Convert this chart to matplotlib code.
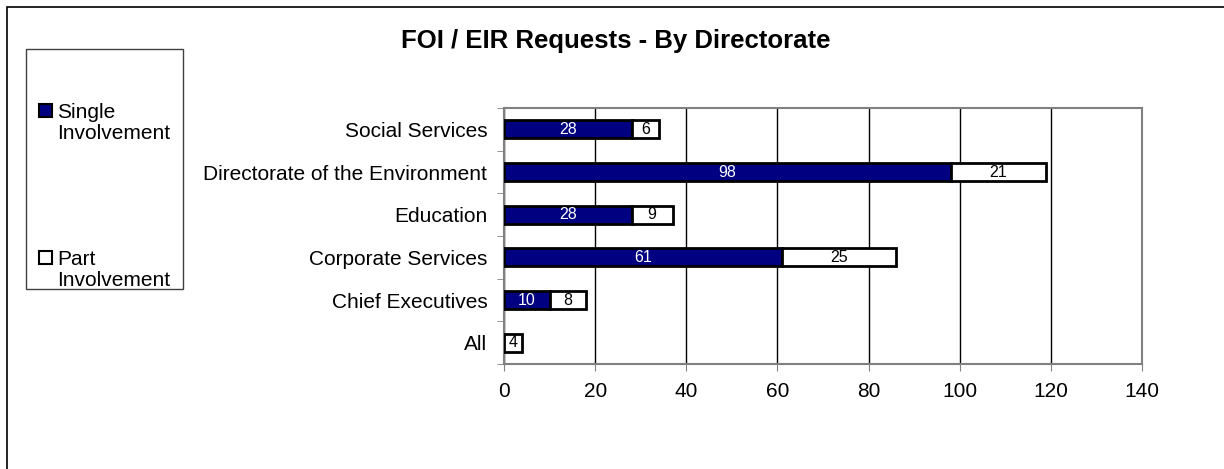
import matplotlib.pyplot as plt
import matplotlib.patches as mpatches
import numpy as np

plt.rcParams['font.family'] = ['Liberation Sans', 'DejaVu Sans']

# data, bottom to top
directorates = ['All', 'Chief Executives', 'Corporate Services', 'Education',
                'Directorate of the Environment', 'Social Services']
single = [0, 10, 61, 28, 98, 28]
part = [4, 8, 25, 9, 21, 6]

W, H = 1224, 469
fig = plt.figure(figsize=(W / 100, H / 100), dpi=100)

# plot area in pixels: left 504, right 1142, top 108, bottom 364
ax = fig.add_axes([504 / W, 1 - 364 / H, (1142 - 504) / W, (364 - 108) / H])

y = np.arange(len(directorates))
bh = 0.42
ax.barh(y, single, height=bh, color='#000080', edgecolor='black', linewidth=2, zorder=3)
ax.barh(y, part, left=single, height=bh, color='white', edgecolor='black', linewidth=2, zorder=3)

for i in range(len(directorates)):
    if single[i] > 0:
        ax.text(single[i] / 2, y[i], str(single[i]), color='white', ha='center',
                va='center', fontsize=11.5, zorder=4)
    if part[i] > 0:
        ax.text(single[i] + part[i] / 2, y[i], str(part[i]), color='black', ha='center',
                va='center', fontsize=11.5, zorder=4)

ax.set_xlim(0, 140)
ax.set_ylim(-0.5, len(directorates) - 0.5)
ax.set_xticks(range(0, 141, 20))
ax.tick_params(axis='x', labelsize=15, length=5, color='#808080', pad=8)
ax.set_yticks(y)
ax.set_yticklabels(directorates, fontsize=15)
ax.tick_params(axis='y', length=0, pad=12)
ax.set_yticks(np.arange(-0.5, len(directorates), 1), minor=True)
ax.tick_params(axis='y', which='minor', length=5, color='#808080')
ax.xaxis.grid(True, color='black', linewidth=1)
ax.set_axisbelow(True)
for s in ax.spines.values():
    s.set_color('#808080')
    s.set_linewidth(1.5)

fig.text(616 / W, 1 - 41 / H, 'FOI / EIR Requests - By Directorate', ha='center',
         va='center', fontsize=18.5, fontweight='bold')

# legend box
fig.patches.append(mpatches.Rectangle((26 / W, 1 - 289 / H), (183 - 26) / W, (289 - 49) / H,
                                      transform=fig.transFigure, fill=False,
                                      edgecolor='#404040', linewidth=1))
fig.patches.append(mpatches.Rectangle((39 / W, 1 - 117 / H), 13 / W, 13 / H,
                                      transform=fig.transFigure, facecolor='#000080',
                                      edgecolor='black', linewidth=1.5))
fig.text(57 / W, 1 - 123 / H, 'Single\nInvolvement', ha='left', va='center', fontsize=15,
         linespacing=1.1)
fig.patches.append(mpatches.Rectangle((39 / W, 1 - 264 / H), 13 / W, 13 / H,
                                      transform=fig.transFigure, facecolor='white',
                                      edgecolor='black', linewidth=1.5))
fig.text(57 / W, 1 - 270 / H, 'Part\nInvolvement', ha='left', va='center', fontsize=15,
         linespacing=1.1)

# outer frame
fig.patches.append(mpatches.Rectangle((7 / W, -0.05), 1.05, 1 - 7 / H + 0.05,
                                      transform=fig.transFigure, fill=False,
                                      edgecolor='black', linewidth=1.2))

fig.savefig('out.png', dpi=100)
